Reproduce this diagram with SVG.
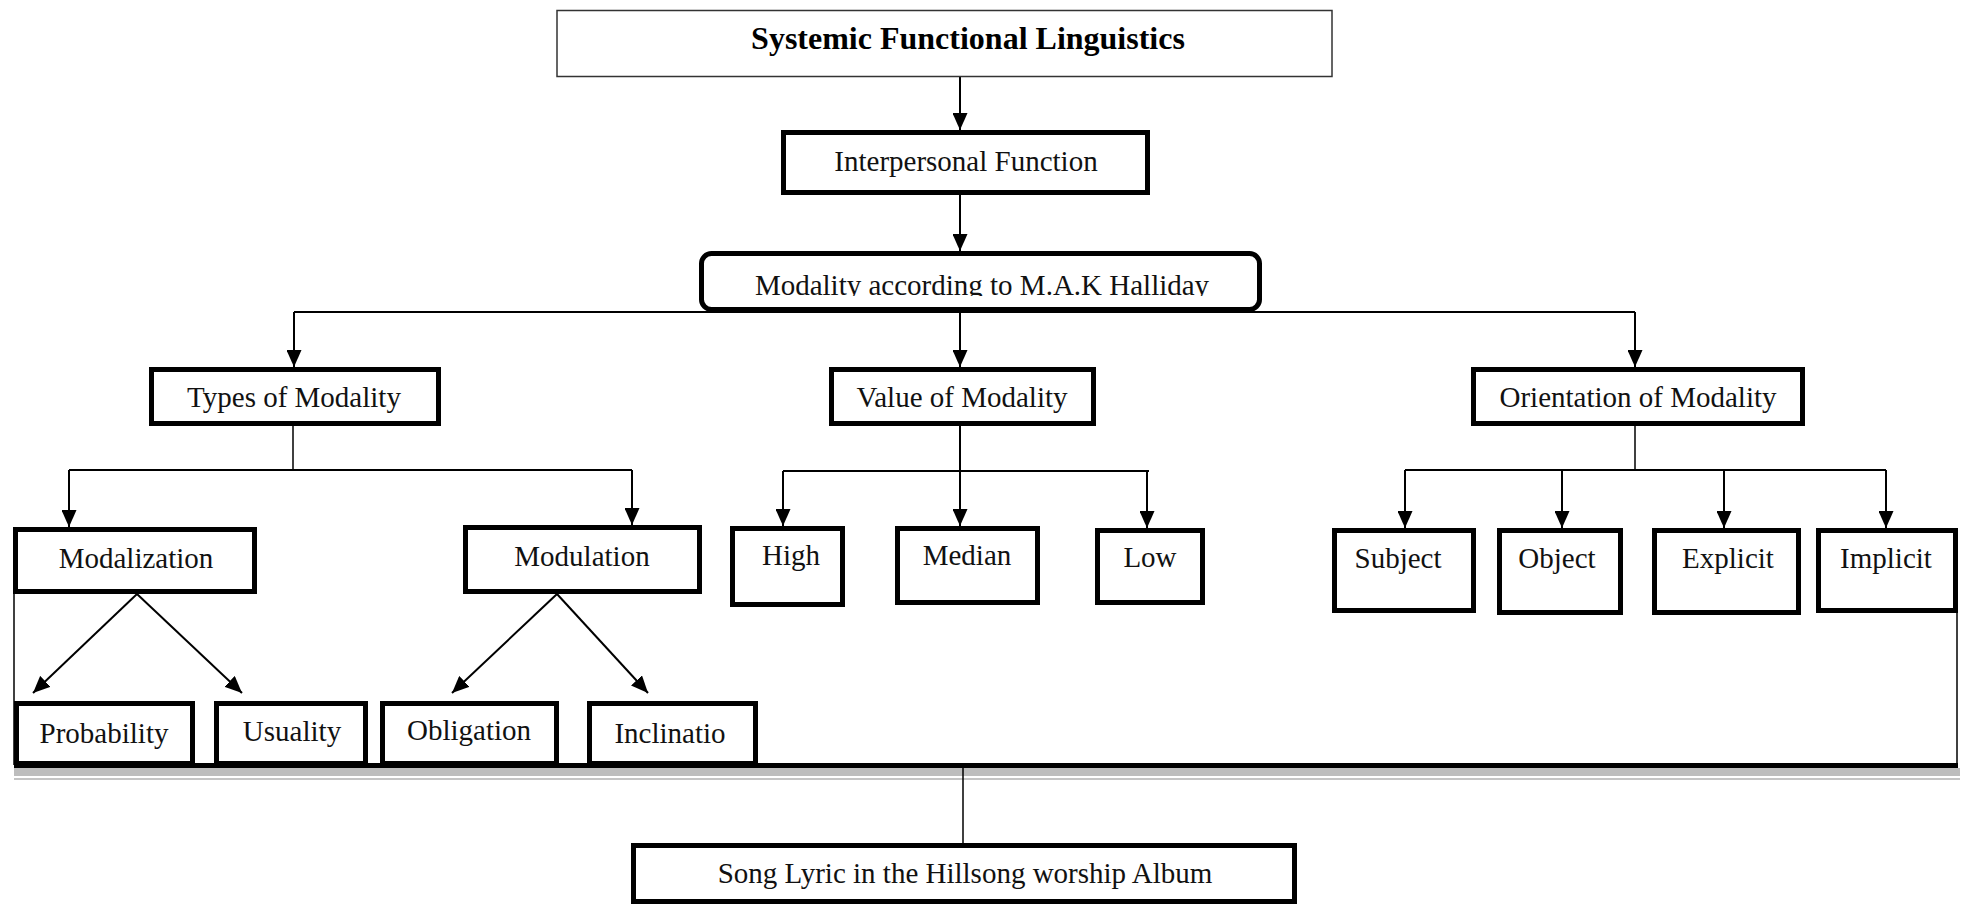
<svg xmlns="http://www.w3.org/2000/svg" width="1971" height="904" viewBox="0 0 1971 904">
  <style>
    .box { fill: #fff; stroke: #000; stroke-width: 5; }
    .thin { fill: #fff; stroke: #333; stroke-width: 1.5; }
    .lbl { font-family: "Liberation Serif", "Times New Roman", serif; font-size: 29px; fill: #111; text-anchor: middle; }
    .title { font-family: "Liberation Serif", "Times New Roman", serif; font-size: 32px; font-weight: bold; fill: #000; text-anchor: middle; }
    .conn { stroke: #000; stroke-width: 2; fill: none; }
    .arr { stroke: #000; stroke-width: 2; fill: none; marker-end: url(#ah); }
    .hair { stroke: #000; stroke-width: 1.5; fill: none; }
  </style>
  <defs>
    <marker id="ah" markerUnits="userSpaceOnUse" markerWidth="17" markerHeight="15" refX="17" refY="7.5" orient="auto">
      <path d="M0,0 L17,7.5 L0,15 z" fill="#000"/>
    </marker>
    <clipPath id="clipMod">
      <rect x="700" y="250" width="565" height="46"/>
    </clipPath>
  </defs>
  <rect width="1971" height="904" fill="#fff"/>

  <g id="connectors">
    <line class="arr" x1="960" y1="77" x2="960" y2="130"/>
    <line class="arr" x1="960" y1="195" x2="960" y2="251"/>
    <line class="conn" x1="294" y1="312" x2="1635" y2="312"/>
    <line class="arr" x1="294" y1="312" x2="294" y2="367"/>
    <line class="arr" x1="960" y1="312" x2="960" y2="367"/>
    <line class="arr" x1="1635" y1="312" x2="1635" y2="367"/>
    <line class="hair" x1="293" y1="426" x2="293" y2="470"/>
    <line class="conn" x1="69" y1="470" x2="632" y2="470"/>
    <line class="arr" x1="69" y1="470" x2="69" y2="527"/>
    <line class="arr" x1="632" y1="470" x2="632" y2="525"/>
    <line class="arr" x1="960" y1="426" x2="960" y2="526"/>
    <line class="conn" x1="783" y1="471" x2="1149" y2="471"/>
    <line class="arr" x1="783" y1="471" x2="783" y2="526"/>
    <line class="arr" x1="1147" y1="471" x2="1147" y2="528"/>
    <line class="hair" x1="1635" y1="426" x2="1635" y2="470"/>
    <line class="conn" x1="1405" y1="470" x2="1886" y2="470"/>
    <line class="arr" x1="1405" y1="470" x2="1405" y2="528"/>
    <line class="arr" x1="1562" y1="470" x2="1562" y2="528"/>
    <line class="arr" x1="1724" y1="470" x2="1724" y2="528"/>
    <line class="arr" x1="1886" y1="470" x2="1886" y2="528"/>
    <line class="arr" x1="137" y1="594" x2="33" y2="693"/>
    <line class="arr" x1="137" y1="594" x2="242" y2="693"/>
    <line class="arr" x1="557" y1="594" x2="452" y2="693"/>
    <line class="arr" x1="557" y1="594" x2="648" y2="693"/>
    <line class="hair" x1="14" y1="594" x2="14" y2="765"/>
    <line class="hair" x1="1957" y1="613" x2="1957" y2="765"/>
    <rect x="14" y="768" width="1946" height="8" fill="#bdbdbd"/>
    <line x1="14" y1="779" x2="1960" y2="779" stroke="#c4c4c4" stroke-width="2"/>
    <line x1="14" y1="765.5" x2="1958" y2="765.5" stroke="#000" stroke-width="5"/>
    <line class="hair" x1="963" y1="768" x2="963" y2="843"/>
  </g>

  <g id="n-sfl">
    <rect class="thin" x="557" y="10.5" width="775" height="66"/>
    <text class="title" x="968" y="49">Systemic Functional Linguistics</text>
  </g>
  <g id="n-interpersonal">
    <rect class="box" x="783.5" y="132.5" width="364" height="60"/>
    <text class="lbl" x="966" y="171">Interpersonal Function</text>
  </g>
  <g id="n-modality">
    <rect class="box" x="701.5" y="253.5" width="558" height="56" rx="10"/>
    <text class="lbl" x="982" y="295" clip-path="url(#clipMod)">Modality according to M.A.K Halliday</text>
  </g>
  <g id="n-types">
    <rect class="box" x="151.5" y="369.5" width="287" height="54"/>
    <text class="lbl" x="294" y="407">Types of Modality</text>
  </g>
  <g id="n-value">
    <rect class="box" x="831.5" y="369.5" width="262" height="54"/>
    <text class="lbl" x="962" y="407">Value of Modality</text>
  </g>
  <g id="n-orientation">
    <rect class="box" x="1473.5" y="369.5" width="329" height="54"/>
    <text class="lbl" x="1638" y="407">Orientation of Modality</text>
  </g>
  <g id="n-modalization">
    <rect class="box" x="15.5" y="529.5" width="239" height="62"/>
    <text class="lbl" x="136" y="568">Modalization</text>
  </g>
  <g id="n-modulation">
    <rect class="box" x="465.5" y="527.5" width="234" height="64"/>
    <text class="lbl" x="582" y="566">Modulation</text>
  </g>
  <g id="n-high">
    <rect class="box" x="732.5" y="528.5" width="110" height="76"/>
    <text class="lbl" x="791" y="565">High</text>
  </g>
  <g id="n-median">
    <rect class="box" x="897.5" y="528.5" width="140" height="74"/>
    <text class="lbl" x="967" y="565">Median</text>
  </g>
  <g id="n-low">
    <rect class="box" x="1097.5" y="530.5" width="105" height="72"/>
    <text class="lbl" x="1150" y="567">Low</text>
  </g>
  <g id="n-subject">
    <rect class="box" x="1334.5" y="530.5" width="139" height="80"/>
    <text class="lbl" x="1398" y="568">Subject</text>
  </g>
  <g id="n-object">
    <rect class="box" x="1499.5" y="530.5" width="121" height="82"/>
    <text class="lbl" x="1557" y="568">Object</text>
  </g>
  <g id="n-explicit">
    <rect class="box" x="1654.5" y="530.5" width="144" height="82"/>
    <text class="lbl" x="1728" y="568">Explicit</text>
  </g>
  <g id="n-implicit">
    <rect class="box" x="1818.5" y="530.5" width="137" height="80"/>
    <text class="lbl" x="1886" y="568">Implicit</text>
  </g>
  <g id="n-probability">
    <rect class="box" x="16.5" y="703.5" width="176" height="60"/>
    <text class="lbl" x="104" y="743">Probability</text>
  </g>
  <g id="n-usuality">
    <rect class="box" x="216.5" y="703.5" width="149" height="60"/>
    <text class="lbl" x="292" y="741">Usuality</text>
  </g>
  <g id="n-obligation">
    <rect class="box" x="382.5" y="703.5" width="174" height="60"/>
    <text class="lbl" x="469" y="740">Obligation</text>
  </g>
  <g id="n-inclinatio">
    <rect class="box" x="589.5" y="703.5" width="166" height="60"/>
    <text class="lbl" x="670" y="743">Inclinatio</text>
  </g>
  <g id="n-song">
    <rect class="box" x="633.5" y="845.5" width="661" height="56"/>
    <text class="lbl" x="965" y="883">Song Lyric in the Hillsong worship Album</text>
  </g>
</svg>
